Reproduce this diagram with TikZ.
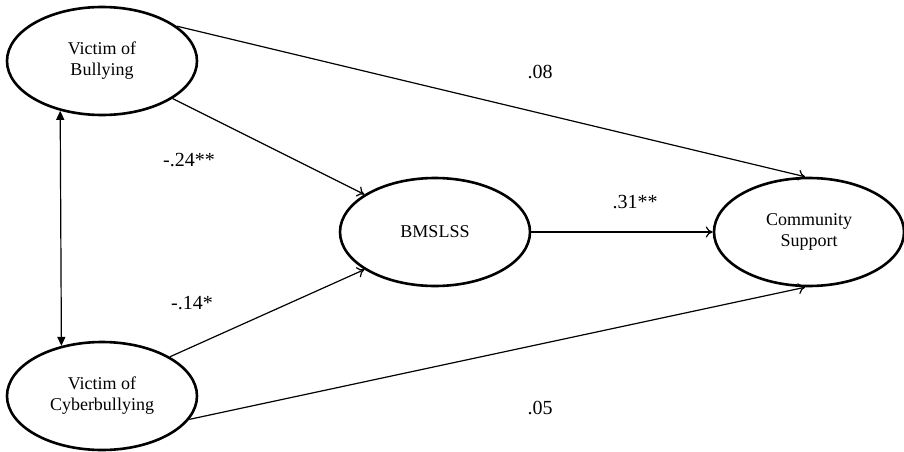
\documentclass[tikz,border=0pt]{standalone}
\usepackage{fontspec}
\setmainfont{Liberation Serif}
\usetikzlibrary{shapes.geometric,arrows.meta}

\begin{document}
\begin{tikzpicture}[x=1pt,y=-1pt,
  latent/.style={ellipse,draw,line width=2.6pt,minimum width=190pt,minimum height=108pt,
                 inner sep=0pt,align=center,font=\fontsize{18}{21}\selectfont},
  path/.style={line width=1.2pt,-{To[length=7pt,width=11pt,line width=1.2pt]}},
  corr/.style={line width=1.2pt,{Triangle[length=9pt,width=8pt]}-{Triangle[length=9pt,width=8pt]}},
  coef/.style={font=\fontsize{20}{22}\selectfont}]
  \useasboundingbox (0,0) rectangle (904,452);

  % latent variables
  \node[latent] (vb) at (102,61)  {Victim of\\Bullying};
  \node[latent] (vc) at (102,396) {Victim of\\Cyberbullying};
  \node[latent] (bm) at (435,232) {BMSLSS};
  \node[latent] (cs) at (809,232) {Community\\Support};

  % covariance between the two predictors
  \draw[corr] (vb.230.8) -- (vc.129.2);

  % structural paths
  \draw[path] (vb.-28.8) -- (bm.152);
  \draw[path] (vc.30.4)  -- (bm.208);
  \draw[path] (vb.25.6)  -- (cs.94);
  \draw[path] (vc.-15)   -- (cs.266);
  \draw[path] (bm.east)  -- (cs.west);

  % path coefficients
  \node[coef] (c1) at (189,160) {-.24**};
  \node[coef] (c2) at (192,303) {-.14*};
  \node[coef] (c3) at (540,72)  {.08};
  \node[coef] (c4) at (540,408) {.05};
  \node[coef] (c5) at (635,202) {.31**};
\end{tikzpicture}
\end{document}
